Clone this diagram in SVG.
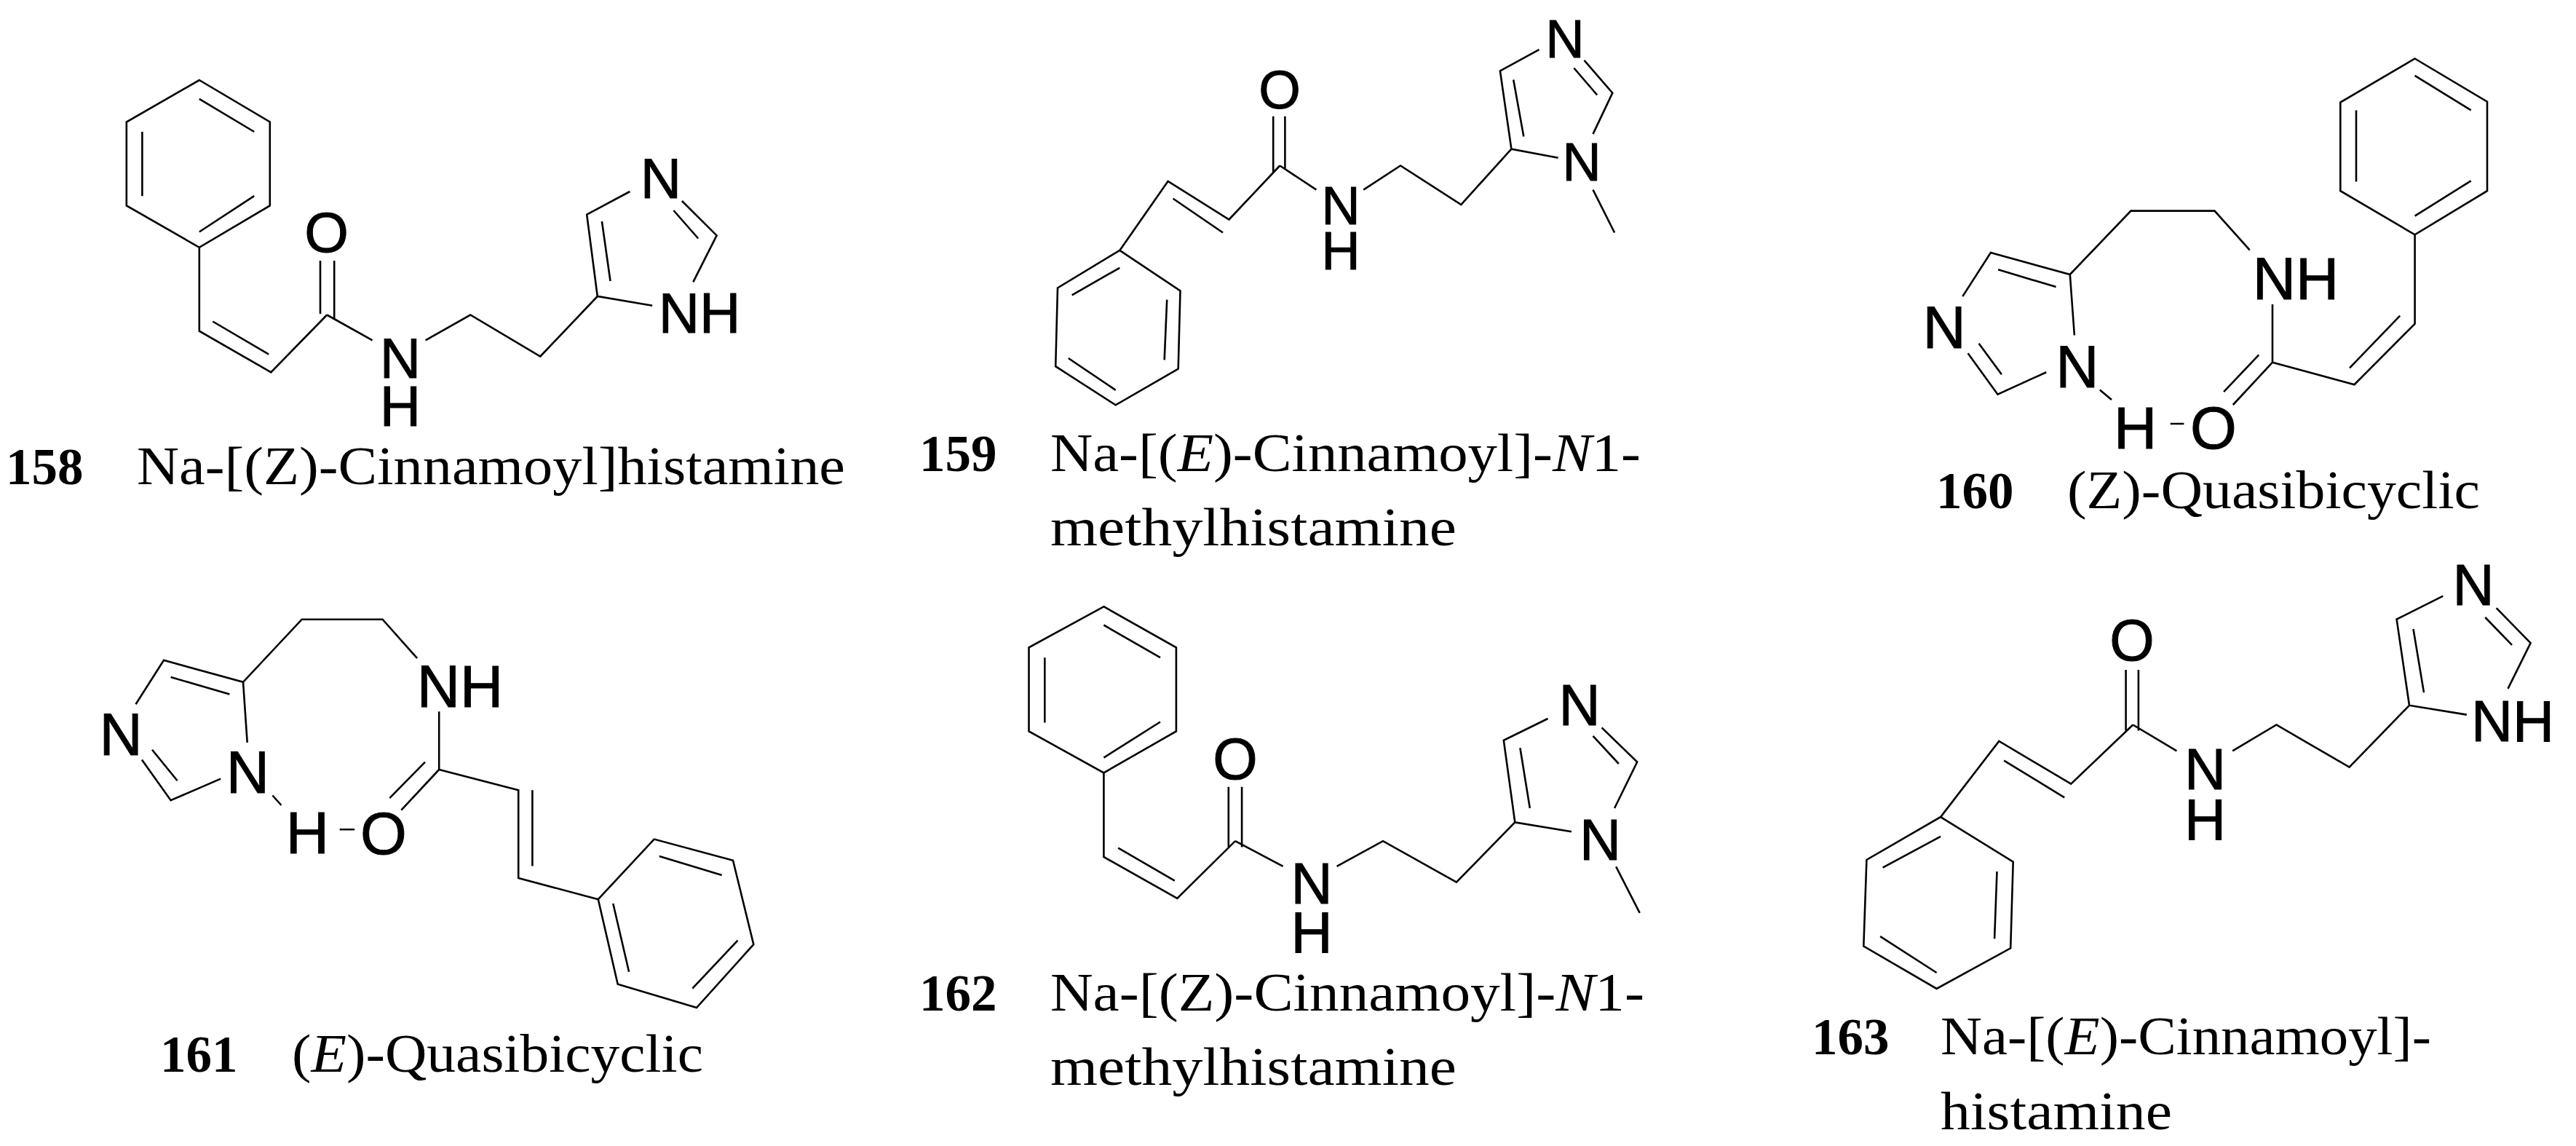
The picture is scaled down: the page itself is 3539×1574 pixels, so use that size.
<svg xmlns="http://www.w3.org/2000/svg" width="3539" height="1574" viewBox="0 0 3539 1574">
<style>
.b{fill:none;stroke:#000;stroke-width:2.6;stroke-linecap:butt;stroke-linejoin:miter}
.a{font-family:"Liberation Sans",Arial,sans-serif;fill:#000;stroke:#000;stroke-width:1;text-anchor:middle}
.n{font-family:"Liberation Serif","Times New Roman",serif;font-weight:bold;font-size:71px;fill:#000}
.t{font-family:"Liberation Serif","Times New Roman",serif;font-size:73px;fill:#000}
.i{font-style:italic}
</style>
<rect width="3539" height="1574" fill="#fff"/>
<g id="compound-158">
<path class="b" d="M273.8 110L370.8 167.5L370.8 282.4L273.8 339.8L173.8 282.4L173.8 167.5Z M273.8 135.9L349.2 181 M349.2 269.2L273.8 318.5 M195.4 181L195.4 269.2 M273.8 339.8L273.8 454.7L372.3 511.3L449.2 432.5 M292.3 441.5L369.2 486.7 M440 358L440 431 M459.2 358L459.2 439 M449.2 432.5L511.5 467.4 M584.6 467.4L646.2 432.5L742.3 489.5L820.8 407L896.2 419.8 M820.8 407L806.2 294.7L865.4 263 M838.5 386L826.9 304 M936.9 276L984.6 323.4L952.3 387.4 M925.4 289L959.2 327.5"/>
<g class="a" font-size="78"><text x="448.5" y="346">O</text><text x="550" y="519">N<tspan x="550" y="585">H</tspan></text><text x="908" y="272">N</text><text x="961" y="457">NH</text></g>
<text class="n" x="8" y="665">158</text>
<text class="t" x="188" y="665" textLength="973" lengthAdjust="spacingAndGlyphs">Na-[(Z)-Cinnamoyl]histamine</text>
</g>
<g id="compound-159">
<path class="b" d="M1538.3 343.9L1621.5 399.4L1618.7 506.6L1532.7 556.3L1450.2 503.2L1453 395.5Z M1538.3 367.8L1472.7 405.3 M1603.2 411.6L1599.7 494.4 M1467.8 492L1532.7 535.8 M1538.3 343.9L1604.6 248.9L1688.5 301.5L1758.3 227.5 M1611.6 272.8L1680 319.5 M1749.2 159.8L1749.2 237 M1765.4 159.8L1765.4 232.8 M1758.3 227.5L1808.4 260.6 M1873.3 260.6L1924 227.5L2007.3 281L2076.4 204.6L2140.6 216.8 M2076.4 204.6L2060.9 97.4L2114.5 68.2 M2093.3 187.5L2079.2 109.6 M2176.5 82.8L2215.3 127.6L2188.5 184.1 M2162.4 93.5L2194.2 130.5 M2188.5 260.6L2218.1 319.5"/>
<g class="a" font-size="74"><text x="1758" y="149">O</text><text x="1842" y="308">N<tspan x="1842" y="370">H</tspan></text><text x="2150" y="79.4">N</text><text x="2173" y="248.4">N</text></g>
<text class="n" x="1263" y="647">159</text>
<text class="t" x="1443" y="647" textLength="811" lengthAdjust="spacingAndGlyphs">Na-[(<tspan class="i">E</tspan>)-Cinnamoyl]-<tspan class="i">N</tspan>1-</text>
<text class="t" x="1443" y="749" textLength="558" lengthAdjust="spacingAndGlyphs">methylhistamine</text>
</g>
<g id="compound-160">
<path class="b" d="M3317.6 80.5L3417 139.7L3417 262.2L3317.6 322.3L3215.3 262.2L3215.3 140.6Z M3317.6 103.8L3394.7 151.4 M3394.7 248.3L3317.6 296.7 M3237 151.4L3237 249.6 M3317.6 322.3L3317.6 444.8L3234.5 528.2L3122 497.7L3122 417.9 M3297.2 433.6L3228 505.4 M3122 497.7L3067.8 556 M3103.3 487.4L3055.1 538.1 M3090.7 343.4L3042.5 289.6L2927.5 289.6L2843.8 377L2734.9 347L2696.3 407.1 M2824.6 394.1L2745.1 370.3 M2703.6 485.2L2744.5 541.7L2811.3 511.2 M2718.6 471.7L2749.9 514.3 M2843.8 377L2849.9 460.5 M2884.8 535.4L2901 548.9 M2981.7 582L3000.4 582"/>
<g class="a" font-size="82"><text x="3154" y="411">NH</text><text x="2671" y="478.4">N</text><text x="2853.8" y="532.3">N</text><text x="2933.5" y="616">H</text><text x="3041" y="616">O</text></g>
<text class="n" x="2660" y="698">160</text>
<text class="t" x="2840" y="698" textLength="567" lengthAdjust="spacingAndGlyphs">(Z)-Quasibicyclic</text>
</g>
<g id="compound-161">
<path class="b" d="M573.1 904.1L525.6 850.7L414.7 850.7L334 936.8L225 906.8L186.5 967.3 M315.4 953.4L234.6 930.1 M194.9 1043.6L234.6 1099.2L303.2 1069.6 M209 1029.7L243.6 1072.3 M334 936.8L339.7 1019.8 M374.4 1092.5L386.5 1106 M466.7 1139.2L487.2 1139.2 M603.2 977.2L603.2 1057L712.2 1085.3L712.2 1206L821.8 1235.2 M603.2 1057L551.3 1112.7 M584 1046.7L535.3 1096.1 M731.4 1085.3L731.4 1189.4 M821.8 1235.2L898.7 1152.6L1007 1181.8L1035.3 1297.1L957 1384.1L848.7 1351.8Z M905.8 1176L991.7 1202 M842.3 1241L864.1 1334.8 M1013.5 1291.7L951.3 1357.6"/>
<g class="a" font-size="82"><text x="632" y="970.5">NH</text><text x="166" y="1036.9">N</text><text x="340.4" y="1089.4">N</text><text x="422.4" y="1172.4">H</text><text x="527" y="1172.5">O</text></g>
<text class="n" x="220" y="1472">161</text>
<text class="t" x="401" y="1472" textLength="565" lengthAdjust="spacingAndGlyphs">(<tspan class="i">E</tspan>)-Quasibicyclic</text>
</g>
<g id="compound-162">
<path class="b" d="M1516.4 833.2L1615.9 889.3L1615.9 1004.4L1516.4 1061.4L1413.5 1004.4L1413.5 889.3Z M1516.4 858.5L1594 903.2 M1594 991.5L1516.4 1040.6 M1435.3 903.2L1435.3 992.5 M1516.4 1061.4L1516.4 1177L1617.3 1234L1697 1155.2 M1536.2 1164.6L1613.8 1209.7 M1687.8 1080.8L1687.8 1163 M1706.1 1080.8L1706.1 1163.6 M1697 1155.2L1762.6 1189.9 M1836.6 1189.9L1900 1155.2L2000.9 1211.7L2081.3 1129.4L2158.9 1142.3 M2081.3 1129.4L2065.8 1016.8L2126.5 987 M2101.8 1110L2088.4 1027.2 M2200.5 999.4L2249.2 1046.5L2218.1 1110 M2188.5 1010.8L2223.8 1049 M2220.2 1190.4L2252.7 1253.9"/>
<g class="a" font-size="79"><text x="1697" y="1070">O</text><text x="1802" y="1240.5">N<tspan x="1802" y="1308.4">H</tspan></text><text x="2170" y="995.9">N</text><text x="2198.5" y="1181">N</text></g>
<text class="n" x="1263" y="1388">162</text>
<text class="t" x="1443" y="1388" textLength="816" lengthAdjust="spacingAndGlyphs">Na-[(Z)-Cinnamoyl]-<tspan class="i">N</tspan>1-</text>
<text class="t" x="1443" y="1489.5" textLength="558" lengthAdjust="spacingAndGlyphs">methylhistamine</text>
</g>
<g id="compound-163">
<path class="b" d="M2666.1 1122.1L2765.7 1183.6L2762.2 1302.3L2660.6 1357.9L2560.3 1299.6L2564.4 1180.9Z M2666.1 1148.9L2586.6 1191.6 M2743.5 1197L2740.1 1289.4 M2583.1 1286.2L2660.6 1336 M2666.1 1122.1L2746.3 1017.9L2845.2 1076.7L2930.3 995.5 M2753.2 1044.6L2836.2 1095.4 M2920.6 920L2920.6 1003.5 M2937.9 920L2937.9 1003.5 M2930.3 995.5L2990.4 1031.3 M3067.2 1031.3L3127.4 995.5L3227.6 1053.7L3310 968.8L3388.8 981.6 M3310 968.8L3292.6 850.6L3356.3 818.6 M3330 951.1L3315.5 864 M3429.6 835.1L3476.6 883.2L3445.5 945.8 M3414.3 848L3451 885.9"/>
<g class="a" font-size="79"><text x="2929" y="907">O</text><text x="3029.5" y="1083.7">N<tspan x="3029.5" y="1152.6">H</tspan></text><text x="3398" y="830.9">N</text><text x="3452" y="1018">NH</text></g>
<text class="n" x="2489" y="1448">163</text>
<text class="t" x="2666" y="1448" textLength="674" lengthAdjust="spacingAndGlyphs">Na-[(<tspan class="i">E</tspan>)-Cinnamoyl]-</text>
<text class="t" x="2666" y="1551" textLength="318" lengthAdjust="spacingAndGlyphs">histamine</text>
</g>
</svg>
